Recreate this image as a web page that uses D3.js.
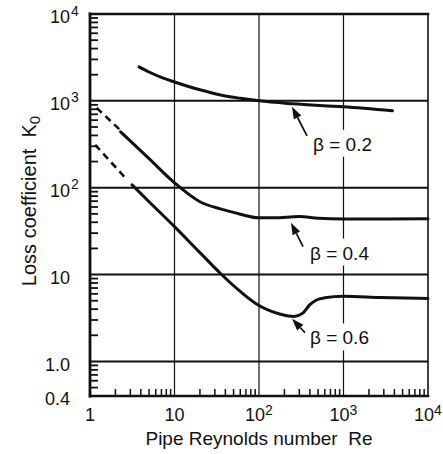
<!DOCTYPE html>
<html>
<head>
<meta charset="utf-8">
<script src="https://cdn.jsdelivr.net/npm/d3@7"></script>
<style>
  body { margin: 0; background: #fff; }
  svg { display: block; }
  text { font-family: "Liberation Sans", Arial, sans-serif; fill: #111; }
</style>
</head>
<body>
<script>
// Axis ticks and labels ([base, superscript])
const reTicks = [1, 10, 100, 1000, 10000];
const reTickLabels = [["1", ""], ["10", ""], ["10", "2"], ["10", "3"], ["10", "4"]];
const kTicks = [0.4, 1, 10, 100, 1000, 10000];
const kTickLabels = [["0.4", ""], ["1.0", ""], ["10", ""], ["10", "2"], ["10", "3"], ["10", "4"]];
const reGrid = [10, 100, 1000];
const kGrid = [1, 10, 100, 1000];

// beta = 0.2
const b02Re = [3.8, 5, 7, 10, 20, 35, 60, 100, 250, 1000, 3800];
const b02K  = [2460, 2150, 1860, 1650, 1340, 1170, 1070, 1000, 925, 853, 767];

// beta = 0.4 (dashed extrapolation, then measured)
const b04DashRe = [1.2, 2.26];
const b04DashK  = [830, 464];
const b04Re = [2.3, 5, 10, 20, 35, 50, 100, 150, 300, 500, 1000, 10000];
const b04K  = [440, 216, 114, 69, 57, 52, 45, 45, 46.6, 44.6, 43.7, 43.8];

// beta = 0.6
const b06DashRe = [1.15, 2.74];
const b06DashK  = [312, 124];
const b06Re = [3.14, 5, 10, 20, 35, 60, 100, 180, 260, 330, 400, 480, 600, 1000, 2700, 10000];
const b06K  = [108, 69, 35.6, 17.9, 10.3, 6.4, 4.4, 3.5, 3.3, 3.6, 4.5, 5.1, 5.4, 5.62, 5.45, 5.3];

// annotations: arrow tip, arrow tail, label start (data coords)
const annotText = ["β = 0.2", "β = 0.4", "β = 0.6"];
const annotTipRe = [246, 239, 246];
const annotTipK = [853, 39.6, 3.1];
const annotTailRe = [370, 332, 350];
const annotTailK = [396, 21, 2.15];
const annotLabelRe = [436, 401, 401];
const annotLabelK = [266, 14.9, 1.57];

const width = 443, height = 454;
const margin = { top: 14, right: 15, bottom: 58, left: 90 };

const svg = d3.select("body").append("svg")
  .attr("width", width)
  .attr("height", height);

const x = d3.scaleLog().domain([1, 10000]).range([margin.left, width - margin.right]);
const y = d3.scaleLog().domain([0.4, 10000]).range([height - margin.bottom, margin.top]);

const x0 = x.range()[0], x1 = x.range()[1];
const y0 = y.range()[0], y1 = y.range()[1];
const ink = "#111";

// minor ticks (2..9 each decade)
const minor = (lo, hi) => {
  const out = [];
  for (let d = 0.1; d < hi; d *= 10)
    for (let m = 2; m <= 9; m++) {
      const v = +(d * m).toPrecision(3);
      if (v > lo && v < hi) out.push(v);
    }
  return out;
};

svg.append("g").selectAll("line")
  .data(minor(0.4, 10000))
  .join("line")
  .attr("x1", x0).attr("x2", x0 + 8)
  .attr("y1", d => y(d)).attr("y2", d => y(d))
  .attr("stroke", ink).attr("stroke-width", 1.8);

svg.append("g").selectAll("line")
  .data(minor(1, 10000))
  .join("line")
  .attr("x1", d => x(d)).attr("x2", d => x(d))
  .attr("y1", y0).attr("y2", y0 - 7)
  .attr("stroke", ink).attr("stroke-width", 1.5);

// grid
svg.append("g").selectAll("line")
  .data(kGrid)
  .join("line")
  .attr("x1", x0).attr("x2", x1)
  .attr("y1", d => y(d)).attr("y2", d => y(d))
  .attr("stroke", ink).attr("stroke-width", 2);

svg.append("g").selectAll("line")
  .data(reGrid)
  .join("line")
  .attr("x1", d => x(d)).attr("x2", d => x(d))
  .attr("y1", y1).attr("y2", y0)
  .attr("stroke", ink).attr("stroke-width", 1.2);

// frame
const frame = svg.append("g").attr("stroke", ink).attr("stroke-linecap", "square");
frame.append("line").attr("x1", x0).attr("x2", x1).attr("y1", y1).attr("y2", y1).attr("stroke-width", 2.5);
frame.append("line").attr("x1", x0).attr("x2", x1).attr("y1", y0).attr("y2", y0).attr("stroke-width", 2.5);
frame.append("line").attr("x1", x0).attr("x2", x0).attr("y1", y1).attr("y2", y0).attr("stroke-width", 2.8);
frame.append("line").attr("x1", x1).attr("x2", x1).attr("y1", y1).attr("y2", y0).attr("stroke-width", 1.6);

// tick labels
const yLab = svg.append("g").selectAll("g")
  .data(kTicks)
  .join("g")
  .attr("transform", d => `translate(0,${y(d) + 3})`);
yLab.append("text")
  .attr("x", 70).attr("dy", "0.35em")
  .attr("text-anchor", "end")
  .style("font-size", "18px")
  .text((d, i) => kTickLabels[i][0]);
yLab.append("text")
  .attr("x", 71).attr("dy", "-0.1em")
  .style("font-size", "14px")
  .text((d, i) => kTickLabels[i][1]);

const xLab = svg.append("g").selectAll("text")
  .data(reTicks)
  .join("text")
  .attr("x", d => x(d)).attr("y", y0 + 25)
  .attr("text-anchor", "middle")
  .style("font-size", "18px");
xLab.append("tspan").text((d, i) => reTickLabels[i][0]);
xLab.append("tspan")
  .attr("dy", "-0.45em")
  .style("font-size", "14px")
  .text((d, i) => reTickLabels[i][1]);

// axis titles
svg.append("text")
  .attr("x", (x0 + x1) / 2).attr("y", height - 9)
  .attr("text-anchor", "middle")
  .style("font-size", "19px")
  .attr("xml:space", "preserve")
  .text("Pipe Reynolds number  Re");

const yt = svg.append("text")
  .attr("transform", `translate(36,${(y0 + y1) / 2 - 4}) rotate(-90)`)
  .attr("text-anchor", "middle")
  .style("font-size", "20px")
  .attr("xml:space", "preserve");
yt.append("tspan").text("Loss coefficient  K");
yt.append("tspan").attr("dy", "0.25em").style("font-size", "15px").text("0");

// annotation labels (with white backing that breaks the vertical grid)
const labels = svg.append("g").selectAll("text")
  .data(annotText)
  .join("text")
  .attr("x", (d, i) => x(annotLabelRe[i]))
  .attr("y", (d, i) => y(annotLabelK[i]))
  .style("font-size", "19px")
  .text(d => d);
labels.each(function() {
  const b = this.getBBox();
  d3.select(this.parentNode).insert("rect", "text")
    .attr("x", b.x - 2).attr("y", b.y - 4)
    .attr("width", b.width + 4).attr("height", b.height + 6)
    .attr("fill", "#fff");
});

// curves
const line = d3.line()
  .x(d => x(d[0])).y(d => y(d[1]))
  .curve(d3.curveMonotoneX);
const zip = (a, b) => a.map((v, i) => [v, b[i]]);

const curves = svg.append("g").attr("fill", "none").attr("stroke", ink)
  .attr("stroke-linecap", "round").attr("stroke-linejoin", "round");
curves.append("path").attr("d", line(zip(b02Re, b02K))).attr("stroke-width", 3);
curves.append("path").attr("d", line(zip(b04Re, b04K))).attr("stroke-width", 3);
curves.append("path").attr("d", line(zip(b06Re, b06K))).attr("stroke-width", 3);
curves.append("path").attr("d", line(zip(b04DashRe, b04DashK)))
  .attr("stroke-width", 2.6).attr("stroke-dasharray", "7,5").attr("stroke-linecap", "butt");
curves.append("path").attr("d", line(zip(b06DashRe, b06DashK)))
  .attr("stroke-width", 2.6).attr("stroke-dasharray", "7,5").attr("stroke-linecap", "butt");

// arrows
annotText.forEach((t, i) => {
  const tx = x(annotTipRe[i]), ty = y(annotTipK[i]);
  const sx = x(annotTailRe[i]), sy = y(annotTailK[i]);
  const a = Math.atan2(ty - sy, tx - sx);
  const len = 12, half = 4.2;
  const bx = tx - len * Math.cos(a), by = ty - len * Math.sin(a);
  svg.append("line")
    .attr("x1", sx).attr("y1", sy).attr("x2", bx).attr("y2", by)
    .attr("stroke", ink).attr("stroke-width", 1.7);
  svg.append("path")
    .attr("d", `M${tx},${ty}L${bx - half * Math.sin(a)},${by + half * Math.cos(a)}L${bx + half * Math.sin(a)},${by - half * Math.cos(a)}Z`)
    .attr("fill", ink);
});
</script>
</body>
</html>
